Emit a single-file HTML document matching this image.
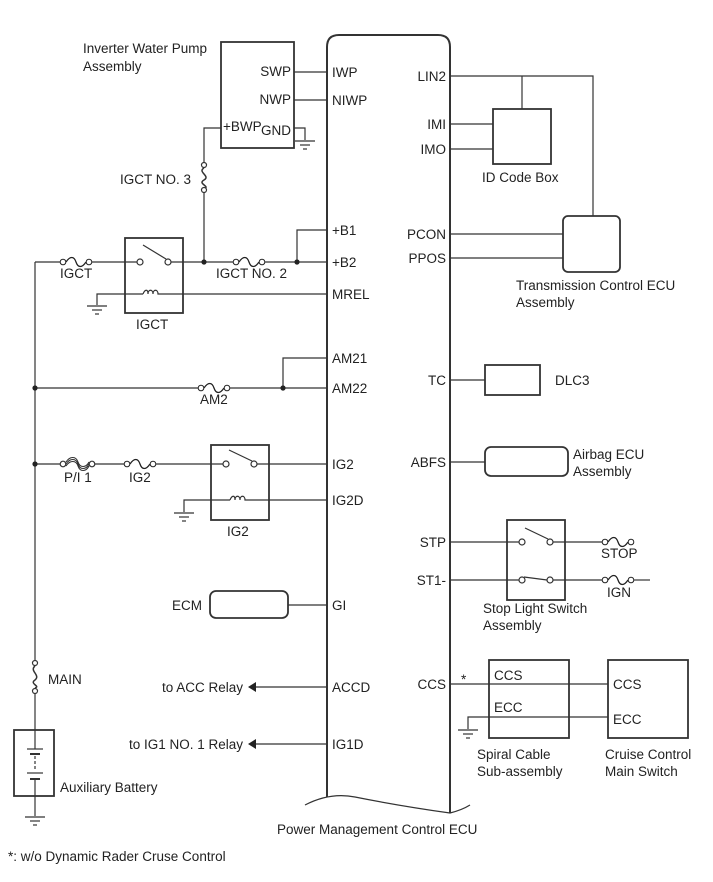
<!DOCTYPE html><html><head><style>body{margin:0;background:#fff}svg{display:block}text{font-family:"Liberation Sans",Arial,sans-serif;font-size:13.5px;fill:#222}</style></head><body>
<svg width="713" height="882" viewBox="0 0 713 882" xmlns="http://www.w3.org/2000/svg">
<defs>
<g id="fuse"><circle cx="0" cy="0" r="2.8" fill="#fff" stroke="#222" stroke-width="1"/><path d="M3 0 C7 -6,11 -6,13 0 C15 6,19 6,23 0" fill="none" stroke="#222" stroke-width="1.3"/><circle cx="26" cy="0" r="2.8" fill="#fff" stroke="#222" stroke-width="1"/></g>
<g id="gnd"><line x1="-10" y1="0" x2="10" y2="0"/><line x1="-5" y1="4" x2="5" y2="4"/><line x1="-2" y1="8" x2="2" y2="8"/></g>
</defs>
<g stroke="#333" stroke-width="1.2" fill="none">
<path d="M327 797 V47 Q327 35 339 35 H438 Q450 35 450 47 V813" stroke-width="2"/>
<path d="M305 805 Q330 792 355 797 Q400 806 450 813 Q462 810 470 805" stroke-width="1.2"/>
<rect x="221" y="42" width="73" height="106" stroke-width="1.8"/>
<line x1="294" y1="72" x2="327" y2="72"/><line x1="294" y1="100" x2="327" y2="100"/>
<path d="M294 128 H305 V140"/><use href="#gnd" x="305" y="141"/>
<path d="M221 128 H204 V163"/>
<circle cx="204" cy="165" r="2.5" fill="#fff"/><path d="M204 168 C197 172,211 176,204 180 C197 184,211 186,204 189" stroke-width="1.5"/><circle cx="204" cy="190" r="2.5" fill="#fff"/><line x1="204" y1="193" x2="204" y2="262"/>
<line x1="35" y1="262" x2="60" y2="262"/><use href="#fuse" x="63" y="262"/><line x1="92" y1="262" x2="137" y2="262"/>
<rect x="125" y="238" width="58" height="75" stroke-width="1.8"/>
<circle cx="140" cy="262" r="3" fill="#fff"/><circle cx="168" cy="262" r="3" fill="#fff"/><line x1="143" y1="245" x2="166" y2="259"/>
<line x1="171" y1="262" x2="233" y2="262"/><use href="#fuse" x="236" y="262"/><line x1="265" y1="262" x2="327" y2="262"/>
<path d="M297 262 V230 H327"/>
<path d="M97 305 V294 H143"/><path d="M143 294 c2-5 5-5 5 0 c0-5 5-5 5 0 c0-5 5-5 5 0 H327"/><use href="#gnd" x="97" y="306"/>
<line x1="35" y1="262" x2="35" y2="660"/>
<circle cx="35" cy="663" r="2.5" fill="#fff"/><path d="M35 666 C29 671,41 675,35 680 C29 684,41 686,35 688" stroke-width="1.5"/><circle cx="35" cy="691" r="2.5" fill="#fff"/>
<line x1="35" y1="694" x2="35" y2="730"/>
<rect x="14" y="730" width="40" height="66" stroke-width="1.8"/>
<line x1="35" y1="730" x2="35" y2="749"/><line x1="27" y1="749" x2="43" y2="749"/><line x1="30" y1="754" x2="40" y2="754" stroke-width="2"/>
<line x1="35" y1="756" x2="35" y2="771" stroke-dasharray="3 2"/><line x1="27" y1="773" x2="43" y2="773"/><line x1="30" y1="779" x2="40" y2="779" stroke-width="2"/>
<line x1="35" y1="780" x2="35" y2="816"/><use href="#gnd" x="35" y="817"/>
<path d="M283 388 V358 H327"/>
<line x1="35" y1="388" x2="198" y2="388"/><use href="#fuse" x="201" y="388"/><line x1="230" y1="388" x2="327" y2="388"/>
<line x1="35" y1="464" x2="60" y2="464"/><circle cx="63" cy="464" r="2.8" fill="#fff"/><path d="M66 464 C70 458,76 458,78 464 C80 470,86 470,89 464 M66 462 C70 456,76 456,78 462 C80 468,86 468,89 462 M66 466 C70 460,76 460,78 466 C80 472,86 472,89 466" stroke-width="1.1"/><circle cx="92" cy="464" r="2.8" fill="#fff"/>
<line x1="95" y1="464" x2="124" y2="464"/><use href="#fuse" x="127" y="464"/><line x1="156" y1="464" x2="223" y2="464"/>
<rect x="211" y="445" width="58" height="75" stroke-width="1.8"/>
<circle cx="226" cy="464" r="3" fill="#fff"/><circle cx="254" cy="464" r="3" fill="#fff"/><line x1="229" y1="450" x2="252" y2="461"/>
<line x1="257" y1="464" x2="327" y2="464"/>
<path d="M184 512 V500 H230"/><path d="M230 500 c2-5 5-5 5 0 c0-5 5-5 5 0 c0-5 5-5 5 0 H327"/><use href="#gnd" x="184" y="513"/>
<rect x="210" y="591" width="78" height="27" rx="6" stroke-width="1.8"/><line x1="288" y1="605" x2="327" y2="605"/>
<line x1="256" y1="687" x2="327" y2="687"/><line x1="256" y1="744" x2="327" y2="744"/>
<path d="M450 76 H593 V216"/><path d="M522 76 V109"/>
<rect x="493" y="109" width="58" height="55" stroke-width="1.8"/>
<line x1="450" y1="124" x2="493" y2="124"/><line x1="450" y1="149" x2="493" y2="149"/>
<rect x="563" y="216" width="57" height="56" rx="5" stroke-width="1.8"/>
<line x1="450" y1="234" x2="563" y2="234"/><line x1="450" y1="258" x2="563" y2="258"/>
<rect x="485" y="365" width="55" height="30" stroke-width="1.8"/><line x1="450" y1="380" x2="485" y2="380"/>
<rect x="485" y="447" width="83" height="29" rx="6" stroke-width="1.8"/><line x1="450" y1="462" x2="485" y2="462"/>
<rect x="507" y="520" width="58" height="80" stroke-width="1.8"/>
<line x1="450" y1="542" x2="519" y2="542"/><circle cx="522" cy="542" r="3" fill="#fff"/><circle cx="550" cy="542" r="3" fill="#fff"/><line x1="525" y1="528" x2="548" y2="539"/><line x1="553" y1="542" x2="602" y2="542"/><use href="#fuse" x="605" y="542"/>
<line x1="450" y1="580" x2="519" y2="580"/><circle cx="522" cy="580" r="3" fill="#fff"/><circle cx="550" cy="580" r="3" fill="#fff"/><line x1="524" y1="577" x2="547" y2="580"/><line x1="553" y1="580" x2="602" y2="580"/><use href="#fuse" x="605" y="580"/><line x1="634" y1="580" x2="650" y2="580"/>
<rect x="489" y="660" width="80" height="78" stroke-width="1.8"/><rect x="608" y="660" width="80" height="78" stroke-width="1.8"/>
<line x1="450" y1="684" x2="608" y2="684"/><path d="M468 729 V717 H608"/><use href="#gnd" x="468" y="730"/>
</g>
<polygon points="248,687 256,682 256,692" fill="#222"/><polygon points="248,744 256,739 256,749" fill="#222"/>
<g fill="#222"><circle cx="204" cy="262" r="2.6"/><circle cx="297" cy="262" r="2.6"/><circle cx="283" cy="388" r="2.6"/><circle cx="35" cy="388" r="2.6"/><circle cx="35" cy="464" r="2.6"/></g>
<text x="83" y="53">Inverter Water Pump</text><text x="83" y="71">Assembly</text>
<text x="291" y="76" text-anchor="end">SWP</text><text x="291" y="104" text-anchor="end">NWP</text><text x="223" y="131">+BWP</text><text x="291" y="135" text-anchor="end">GND</text>
<text x="332" y="77">IWP</text><text x="332" y="105">NIWP</text><text x="332" y="235">+B1</text><text x="332" y="267">+B2</text><text x="332" y="299">MREL</text>
<text x="332" y="363">AM21</text><text x="332" y="393">AM22</text><text x="332" y="469">IG2</text><text x="332" y="505">IG2D</text><text x="332" y="610">GI</text><text x="332" y="692">ACCD</text><text x="332" y="749">IG1D</text>
<text x="120" y="184">IGCT NO. 3</text><text x="60" y="278">IGCT</text><text x="216" y="278">IGCT NO. 2</text><text x="136" y="329">IGCT</text>
<text x="200" y="404">AM2</text><text x="64" y="482">P/I 1</text><text x="129" y="482">IG2</text><text x="227" y="536">IG2</text>
<text x="172" y="610">ECM</text><text x="48" y="684">MAIN</text><text x="243" y="692" text-anchor="end">to ACC Relay</text><text x="243" y="749" text-anchor="end">to IG1 NO. 1 Relay</text>
<text x="60" y="792">Auxiliary Battery</text><text x="277" y="834">Power Management Control ECU</text><text x="8" y="861">*: w/o Dynamic Rader Cruse Control</text>
<text x="446" y="81" text-anchor="end">LIN2</text><text x="446" y="129" text-anchor="end">IMI</text><text x="446" y="154" text-anchor="end">IMO</text><text x="482" y="182">ID Code Box</text>
<text x="446" y="239" text-anchor="end">PCON</text><text x="446" y="263" text-anchor="end">PPOS</text><text x="516" y="290">Transmission Control ECU</text><text x="516" y="307">Assembly</text>
<text x="446" y="385" text-anchor="end">TC</text><text x="555" y="385">DLC3</text><text x="446" y="467" text-anchor="end">ABFS</text><text x="573" y="459">Airbag ECU</text><text x="573" y="476">Assembly</text>
<text x="446" y="547" text-anchor="end">STP</text><text x="446" y="585" text-anchor="end">ST1-</text><text x="601" y="558">STOP</text><text x="607" y="597">IGN</text>
<text x="483" y="613">Stop Light Switch</text><text x="483" y="630">Assembly</text>
<text x="446" y="689" text-anchor="end">CCS</text><text x="461" y="684" font-size="10">*</text>
<text x="494" y="680">CCS</text><text x="494" y="712">ECC</text><text x="613" y="689">CCS</text><text x="613" y="724">ECC</text>
<text x="477" y="759">Spiral Cable</text><text x="477" y="776">Sub-assembly</text><text x="605" y="759">Cruise Control</text><text x="605" y="776">Main Switch</text>
</svg></body></html>
